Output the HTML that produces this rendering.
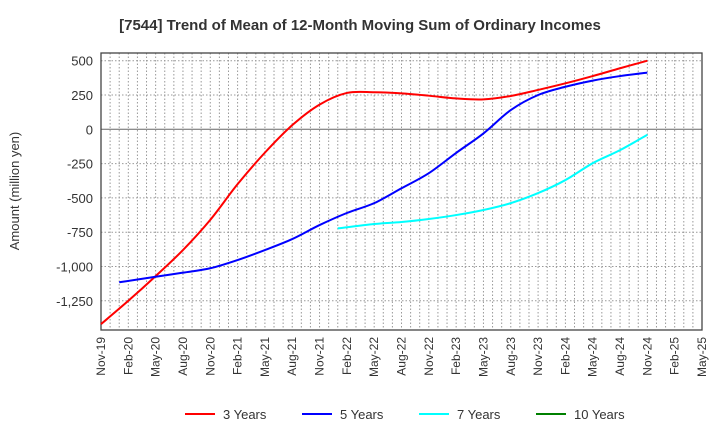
<!DOCTYPE html>
<html><head><meta charset="utf-8"><style>
body{margin:0;background:#fff;font-family:"Liberation Sans",sans-serif}
</style></head><body>
<svg id="c" width="720" height="440" xmlns="http://www.w3.org/2000/svg"></svg>
<script>
const xLabels=["Nov-19","Feb-20","May-20","Aug-20","Nov-20","Feb-21","May-21","Aug-21","Nov-21","Feb-22","May-22","Aug-22","Nov-22","Feb-23","May-23","Aug-23","Nov-23","Feb-24","May-24","Aug-24","Nov-24","Feb-25","May-25"];
const yTicks=[500,250,0,-250,-500,-750,-1000,-1250];
const yTickLabels=["500","250","0","-250","-500","-750","-1,000","-1,250"];
const s3=[-1420,-1250,-1070,-880,-660,-400,-170,30,180,265,270,262,245,225,218,243,287,335,388,445,500];
const s5=[null,-1115,-1075,-1045,-1013,-953,-880,-800,-698,-610,-538,-430,-320,-172,-30,140,250,310,355,388,413];
const s7=[null,null,null,null,null,null,null,null,null,-722,-690,-676,-654,-625,-588,-538,-465,-370,-247,-152,-40];
const s10=[];
const firstMonthShift=[0,1,1,0];
const seriesNames=["3 Years","5 Years","7 Years","10 Years"];
const colors=["#ff0000","#0000ff","#00ffff","#008000"];
const L=101,R=702,T=53,B=330;
const X=i=>L+i*(R-L)/22, Y=v=>129.3-v*34.3/250;
const svg=document.getElementById('c');const NS="http://www.w3.org/2000/svg";
function mk(t,a,p){const e=document.createElementNS(NS,t);for(const k in a)e.setAttribute(k,a[k]);(p||svg).appendChild(e);return e;}
let t=mk('text',{x:360,y:30,'text-anchor':'middle','font-size':15,'font-weight':'bold',fill:'#333'});t.textContent="[7544]  Trend of Mean of 12-Month Moving Sum of Ordinary Incomes";

const g=mk('g',{});
for(let m=0;m<=66;m++){const x=L+m*(R-L)/66;mk('line',{x1:x,x2:x,y1:T,y2:B,stroke:'#999','stroke-dasharray':'1.5,2','stroke-width':1},g);}
yTicks.forEach((v,i)=>{const y=Y(v);mk('line',{x1:L,x2:R,y1:y,y2:y,stroke:v==0?'#666':'#999','stroke-dasharray':v==0?'':'1.5,2'},g);
const tl=mk('text',{x:93,y:y+5,'text-anchor':'end','font-size':13,fill:'#333'});tl.textContent=yTickLabels[i];
});
xLabels.forEach((s,i)=>{const x=X(i);const tl=mk('text',{transform:`translate(${x+4},337) rotate(-90)`,'text-anchor':'end','font-size':12,fill:'#333'});tl.textContent=s;
});
const fr=mk('rect',{x:L,y:T,width:R-L,height:B-T,fill:'none',stroke:'#444','stroke-width':1.3});

const yt=mk('text',{transform:'translate(19,191) rotate(-90)','text-anchor':'middle','font-size':13,fill:'#333'});yt.textContent="Amount (million yen)";

function path(arr,shift){const p=[];arr.forEach((v,i)=>{if(v!=null)p.push([X(p.length==0?i-shift/3:i),Y(v)]);});if(p.length<2)return'';
let d=`M${p[0][0]},${p[0][1]}`;for(let i=0;i<p.length-1;i++){const p0=p[i-1]||p[i],p1=p[i],p2=p[i+1],p3=p[i+2]||p2;
d+=`C${p1[0]+(p2[0]-p0[0])/6},${p1[1]+(p2[1]-p0[1])/6} ${p2[0]-(p3[0]-p1[0])/6},${p2[1]-(p3[1]-p1[1])/6} ${p2[0]},${p2[1]}`;}return d;}
[s3,s5,s7,s10].forEach((s,k)=>{const d=path(s,firstMonthShift[k]);if(d){const l=mk('path',{d:d,fill:'none',stroke:colors[k],'stroke-width':2});
}
const lx=[185,302,419,536][k];const lg=mk('g',{});
mk('line',{x1:lx,x2:lx+30,y1:414,y2:414,stroke:colors[k],'stroke-width':2},lg);
const tx=mk('text',{x:lx+38,y:419,'font-size':13,fill:'#333'},lg);tx.textContent=seriesNames[k];});
</script>
</body></html>
